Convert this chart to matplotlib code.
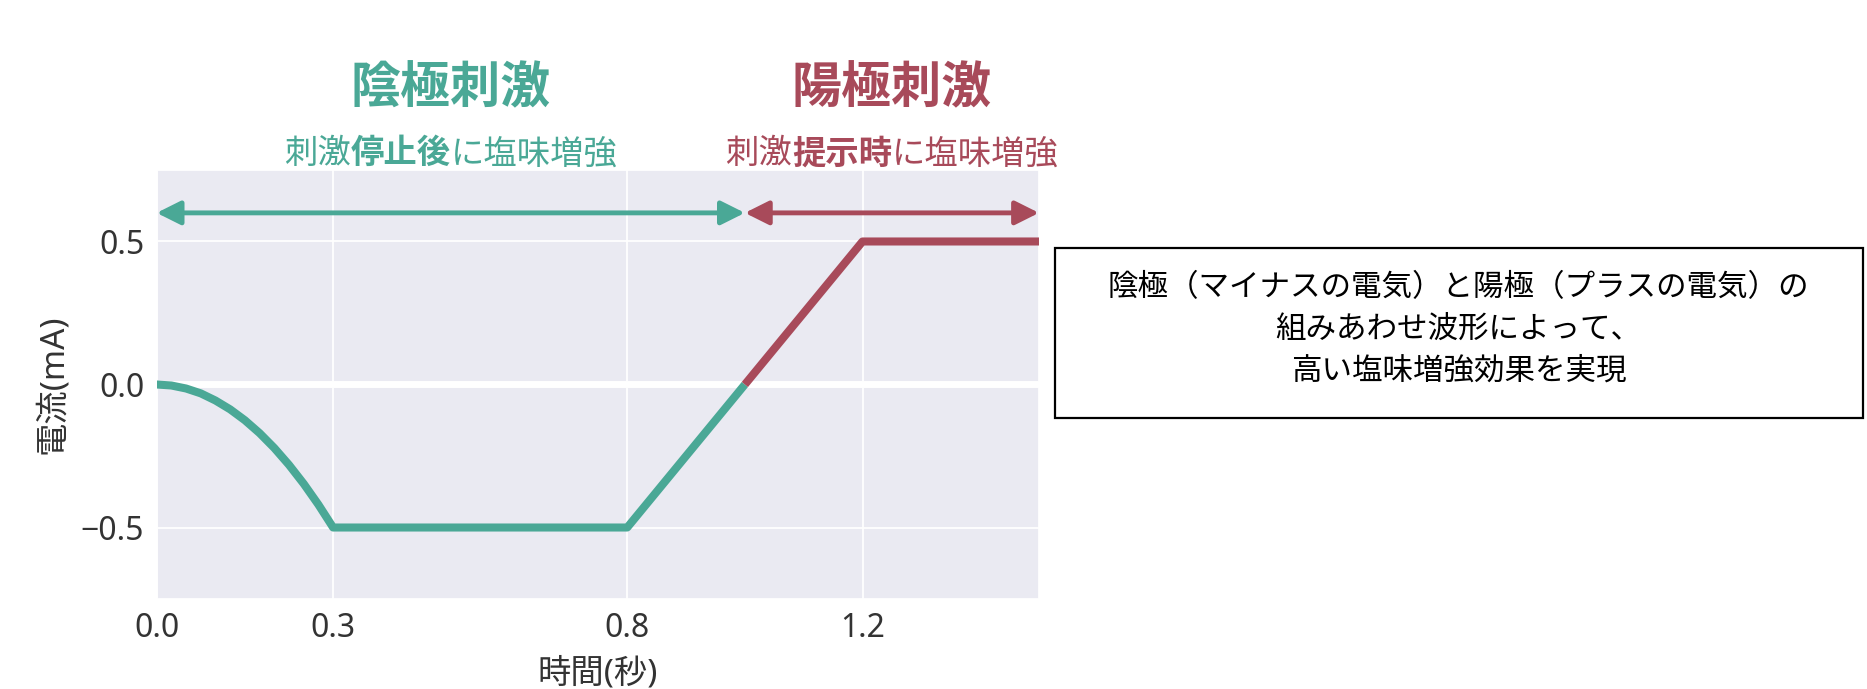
import matplotlib
matplotlib.use("Agg")
import matplotlib.pyplot as plt
import matplotlib.transforms as mtransforms
from matplotlib.patches import Rectangle
import seaborn as sns

# ---- data ----
time_cathode = [0.0, 0.025, 0.05, 0.075, 0.10, 0.125, 0.15, 0.175, 0.20, 0.225, 0.25, 0.275, 0.30, 0.80, 1.00]
current_cathode = [0.0, -0.0035, -0.014, -0.031, -0.056, -0.087, -0.125, -0.170, -0.222, -0.281, -0.347, -0.420, -0.5, -0.5, 0.0]
time_anode = [1.0, 1.2, 1.5]
current_anode = [0.0, 0.5, 0.5]
xticks = [0.0, 0.3, 0.8, 1.2]
xtick_labels = ["0.0", "0.3", "0.8", "1.2"]
yticks = [-0.5, 0.0, 0.5]
cathode_span = [0.0, 1.0]
anode_span = [1.0, 1.5]
arrow_level = 0.6
cathode_title = "陰極刺激"
anode_title = "陽極刺激"
cathode_sub = [("刺激", "normal"), ("停止後", "bold"), ("に塩味増強", "normal")]
anode_sub = [("刺激", "normal"), ("提示時", "bold"), ("に塩味増強", "normal")]
box_text = "陰極（マイナスの電気）と陽極（プラスの電気）の\n組みあわせ波形によって、\n高い塩味増強効果を実現"
xlabel = "時間(秒)"
ylabel = "電流(mA)"

GREEN = "#4AA896"
RED = "#A84A5A"
CJK = ['Noto Sans CJK JP', 'DejaVu Sans']
MIX = ['Noto Sans', 'Noto Sans CJK JP', 'DejaVu Sans']

sns.set_theme(style="darkgrid")
plt.rcParams['font.family'] = CJK
plt.rcParams['axes.unicode_minus'] = True

fig = plt.figure(figsize=(18.67, 6.89), dpi=100)
ax = fig.add_axes([0.0839, 0.1306, 0.4726, 0.6227])
ax.set_xlim(0, 1.5)
ax.set_ylim(-0.75, 0.75)

ax.axhline(0, color="white", lw=5, zorder=1)
ax.plot(time_cathode, current_cathode, color=GREEN, lw=5.8, solid_capstyle="butt", zorder=3)
ax.plot(time_anode, current_anode, color=RED, lw=5.8, solid_capstyle="butt", zorder=4)

arrow_kw = dict(arrowstyle="<|-|>,head_length=0.4,head_width=0.2", lw=3.5,
                mutation_scale=36, shrinkA=0, shrinkB=0)
ax.annotate("", xy=(cathode_span[1], arrow_level), xytext=(cathode_span[0], arrow_level),
            arrowprops=dict(color=GREEN, **arrow_kw), annotation_clip=False, zorder=5)
ax.annotate("", xy=(anode_span[1], arrow_level), xytext=(anode_span[0], arrow_level),
            arrowprops=dict(color=RED, **arrow_kw), annotation_clip=False, zorder=5)

ax.set_xticks(xticks)
ax.set_xticklabels(xtick_labels)
ax.set_yticks(yticks)
ax.tick_params(axis="both", labelsize=23, length=0, pad=9, colors="#333333")
for lab in ax.get_xticklabels() + ax.get_yticklabels():
    lab.set_fontfamily(MIX)
ax.set_xlabel(xlabel, fontsize=24, color="#333333", labelpad=9, family=MIX)
ax.set_ylabel(ylabel, fontsize=24, color="#333333", labelpad=8, family=MIX)
ax.grid(True, color="white", lw=1.3)

trans = mtransforms.blended_transform_factory(ax.transData, ax.transAxes)
ax.text(sum(cathode_span) / 2, 1.19, cathode_title, transform=trans, ha="center", va="center",
        fontsize=36, fontweight="bold", color=GREEN)
ax.text(sum(anode_span) / 2, 1.19, anode_title, transform=trans, ha="center", va="center",
        fontsize=36, fontweight="bold", color=RED)


def mixed(xc, parts, color):
    first = ax.text(xc, 1.038, parts[0][0], transform=trans, ha="left", va="center",
                    fontsize=24, fontweight=parts[0][1], color=color)
    prev = first
    arts = [first]
    for s, w in parts[1:]:
        prev = ax.annotate(s, xy=(1, 0.5), xycoords=prev, ha="left", va="center",
                           fontsize=24, fontweight=w, color=color)
        arts.append(prev)
    return arts


subs = [mixed(sum(cathode_span) / 2, cathode_sub, GREEN),
        mixed(sum(anode_span) / 2, anode_sub, RED)]
fig.canvas.draw()
r = fig.canvas.get_renderer()
for arts in subs:
    x0 = arts[0].get_window_extent(r).x0
    x1 = arts[-1].get_window_extent(r).x1
    w = x1 - x0
    arts[0].set_transform(trans + mtransforms.Affine2D().translate(-w / 2, 0))

fig.patches.append(Rectangle((0.565, 0.3933), 0.4328, 0.2467, transform=fig.transFigure,
                             facecolor="white", edgecolor="black", lw=1.6))
fig.text(0.7812, 0.5225, box_text, ha="center", va="center", fontsize=22,
         color="black", linespacing=1.45, multialignment="center")

fig.savefig("out.png", dpi=100)
